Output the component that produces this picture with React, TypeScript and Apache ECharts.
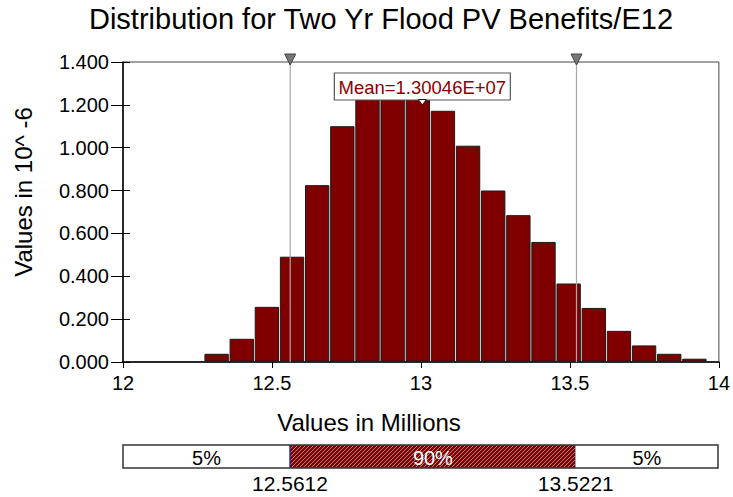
import React, { useEffect, useRef } from 'react';
import * as echarts from 'echarts';

const TITLE = 'Distribution for Two Yr Flood PV Benefits/E12';
const Y_NAME = 'Values in 10^ -6';
const X_NAME = 'Values in Millions';
const BIN_START = 12.272;
const BIN_WIDTH = 0.0844;
const densities = [0.036, 0.106, 0.255, 0.489, 0.823, 1.098, 1.27, 1.31, 1.285, 1.17, 1.007, 0.798, 0.683, 0.558, 0.364, 0.25, 0.143, 0.075, 0.036, 0.013];
const xTicks = [12, 12.5, 13, 13.5, 14];
const yTicks = [0, 0.2, 0.4, 0.6, 0.8, 1.0, 1.2, 1.4];
const percentileValues = [12.5612, 13.5221];
const percentileLabels = ['12.5612', '13.5221'];
const bandShares = ['5%', '90%', '5%'];
const MEAN = 13.0046;
const MEAN_LABEL = 'Mean=1.30046E+07';

const FONT = '"Liberation Sans", Arial, Helvetica, sans-serif';

export default function App() {
  const ref = useRef<HTMLDivElement>(null);

  useEffect(() => {
    document.body.style.margin = '0';
    const chart = echarts.init(ref.current!, undefined, { renderer: 'svg' });
    const xMin = xTicks[0];
    const xMax = xTicks[xTicks.length - 1];
    const yMin = yTicks[0];
    const yMax = yTicks[yTicks.length - 1];
    const yInt = yTicks[1] - yTicks[0];
    const xInt = xTicks[1] - xTicks[0];

    const barData = densities.map((d, i) => [BIN_START + i * BIN_WIDTH, BIN_START + (i + 1) * BIN_WIDTH, d]);
    const edges = [xMin, ...percentileValues, xMax];
    const bandData = bandShares.map((_, i) => [edges[i], edges[i + 1]]);

    const option: any = {
      animation: false,
      textStyle: { fontFamily: FONT },
      grid: [
        { left: 123, right: 14, top: 62, bottom: 135, show: true, borderColor: '#444', borderWidth: 1, backgroundColor: 'transparent' },
        { left: 123, right: 15, top: 445, height: 23 },
      ],
      xAxis: [
        {
          type: 'value', gridIndex: 0, min: xMin, max: xMax, interval: xInt,
          axisLine: { show: true, onZero: false, lineStyle: { color: '#000', width: 1.5 } },
          axisTick: { show: true, inside: false, length: 6, lineStyle: { color: '#000' } },
          axisLabel: { fontSize: 20, color: '#000', margin: 11, fontFamily: FONT, formatter: (v: number) => String(v) },
          splitLine: { show: false },
        },
        { type: 'value', gridIndex: 1, min: xMin, max: xMax, show: false },
      ],
      yAxis: [
        {
          type: 'value', gridIndex: 0, min: yMin, max: yMax, interval: yInt,
          axisLine: { show: true, lineStyle: { color: '#000', width: 1.5 } },
          axisTick: { show: true, inside: true, length: 7, lineStyle: { color: '#000' } },
          axisLabel: { fontSize: 20, color: '#000', margin: 14, fontFamily: FONT, formatter: (v: number) => v.toFixed(3) },
          splitLine: { show: false },
        },
        {
          type: 'value', gridIndex: 0, min: yMin, max: yMax, interval: yInt, position: 'left', offset: 0,
          axisLine: { show: false },
          axisTick: { show: true, inside: false, length: 12, lineStyle: { color: '#000' } },
          axisLabel: { show: false },
          splitLine: { show: false },
        },
        { type: 'value', gridIndex: 1, min: 0, max: 1, show: false },
      ],
      graphic: [
        { type: 'text', x: 381, y: 19, style: { text: TITLE, fontSize: 29, fontFamily: FONT, fill: '#000', textAlign: 'center', textVerticalAlign: 'middle' } },
        { type: 'text', x: 369, y: 422, style: { text: X_NAME, fontSize: 24, fontFamily: FONT, fill: '#000', textAlign: 'center', textVerticalAlign: 'middle' } },
        { type: 'text', x: 23, y: 192, rotation: Math.PI / 2, style: { text: Y_NAME, fontSize: 24, fontFamily: FONT, fill: '#000', textAlign: 'center', textVerticalAlign: 'middle' } },
      ],
      series: [
        {
          type: 'custom', name: 'histogram', xAxisIndex: 0, yAxisIndex: 0, z: 2,
          data: barData,
          renderItem: (params: any, api: any) => {
            const p0 = api.coord([api.value(0), api.value(2)]);
            const p1 = api.coord([api.value(1), 0]);
            return {
              type: 'rect',
              shape: { x: p0[0] + 0.9, y: p0[1], width: p1[0] - p0[0] - 1.8, height: p1[1] - p0[1] - 1 },
              style: { fill: '#800000', stroke: '#1a1a1a', lineWidth: 1 },
            };
          },
        },
        {
          type: 'custom', name: 'percentiles', xAxisIndex: 0, yAxisIndex: 0, z: 3, clip: false,
          data: percentileValues.map((v) => [v]),
          renderItem: (params: any, api: any) => {
            const x = api.value(0);
            const top = api.coord([x, yMax]);
            const bot = api.coord([x, yMin]);
            return {
              type: 'group',
              children: [
                { type: 'line', shape: { x1: top[0], y1: top[1], x2: bot[0], y2: bot[1] }, style: { stroke: '#a8a8a8', lineWidth: 1.2 } },
                { type: 'polygon', shape: { points: [[top[0] - 5.5, top[1] - 8], [top[0] + 5.5, top[1] - 8], [top[0], top[1] + 3]] }, style: { fill: '#777', stroke: '#444', lineWidth: 1 } },
              ],
            };
          },
        },
        {
          type: 'custom', name: 'mean', xAxisIndex: 0, yAxisIndex: 0, z: 4, clip: false,
          data: [[MEAN]],
          renderItem: (params: any, api: any) => {
            const top = api.coord([api.value(0), yMax]);
            const cx = top[0];
            const by = top[1] + 11;
            const w = 176, h = 27;
            return {
              type: 'group',
              children: [
                { type: 'rect', shape: { x: cx - w / 2, y: by, width: w, height: h }, style: { fill: '#fff', stroke: '#555', lineWidth: 1.2 } },
                { type: 'text', x: cx, y: by + h / 2 + 1, style: { text: MEAN_LABEL, fontSize: 18.5, fontFamily: FONT, fill: '#8b0000', textAlign: 'center', textVerticalAlign: 'middle' } },
                { type: 'polygon', shape: { points: [[cx - 4, by + h - 0.5], [cx + 4, by + h - 0.5], [cx, by + h + 5]] }, style: { fill: '#fff', stroke: '#222', lineWidth: 1 } },
              ],
            };
          },
        },
        {
          type: 'custom', name: 'bands', xAxisIndex: 1, yAxisIndex: 2, z: 2, clip: false,
          data: bandData,
          renderItem: (params: any, api: any) => {
            const i = params.dataIndex;
            const p0 = api.coord([api.value(0), 1]);
            const p1 = api.coord([api.value(1), 0]);
            const x = p0[0], y = p0[1], w = p1[0] - p0[0], h = p1[1] - p0[1];
            const middle = i === 1;
            const children: any[] = [
              { type: 'rect', shape: { x, y, width: w, height: h }, style: { fill: middle ? '#800000' : '#fff' } },
            ];
            if (middle) {
              for (let a = x - h; a < x + w; a += 4) {
                const t0 = Math.max(0, x - a);
                const t1 = Math.min(h, x + w - a);
                if (t1 > t0) {
                  children.push({ type: 'line', shape: { x1: a + t0, y1: y + h - t0, x2: a + t1, y2: y + h - t1 }, style: { stroke: '#b8a8a8', lineWidth: 0.8 } });
                }
              }
              children.push({ type: 'line', shape: { x1: x, y1: y, x2: x, y2: y + h }, style: { stroke: '#1a1a99', lineWidth: 1.2 } });
              children.push({ type: 'line', shape: { x1: x + w, y1: y, x2: x + w, y2: y + h }, style: { stroke: '#9090c0', lineWidth: 1.5 } });
            }
            children.push({ type: 'text', x: x + w / 2, y: y + h / 2 + 1, style: { text: bandShares[i], fontSize: 20, fontFamily: FONT, fill: middle ? '#fff' : '#000', textAlign: 'center', textVerticalAlign: 'middle' } });
            return { type: 'group', children };
          },
        },
        {
          type: 'custom', name: 'bandFrame', xAxisIndex: 1, yAxisIndex: 2, z: 3, clip: false,
          data: [[xMin, xMax]],
          renderItem: (params: any, api: any) => {
            const p0 = api.coord([api.value(0), 1]);
            const p1 = api.coord([api.value(1), 0]);
            return { type: 'rect', shape: { x: p0[0], y: p0[1], width: p1[0] - p0[0], height: p1[1] - p0[1] }, style: { fill: 'none', stroke: '#333', lineWidth: 1.5 } };
          },
        },
        {
          type: 'custom', name: 'percentileLabels', xAxisIndex: 1, yAxisIndex: 2, z: 3, clip: false,
          data: percentileValues.map((v) => [v]),
          renderItem: (params: any, api: any) => {
            const p = api.coord([api.value(0), 0]);
            return { type: 'text', x: p[0], y: p[1] + 15, style: { text: percentileLabels[params.dataIndex], fontSize: 21, fontFamily: FONT, fill: '#000', textAlign: 'center', textVerticalAlign: 'middle' } };
          },
        },
      ],
    };
    chart.setOption(option);
    return () => chart.dispose();
  }, []);

  return <div ref={ref} style={{ width: 733, height: 497 }} />;
}
